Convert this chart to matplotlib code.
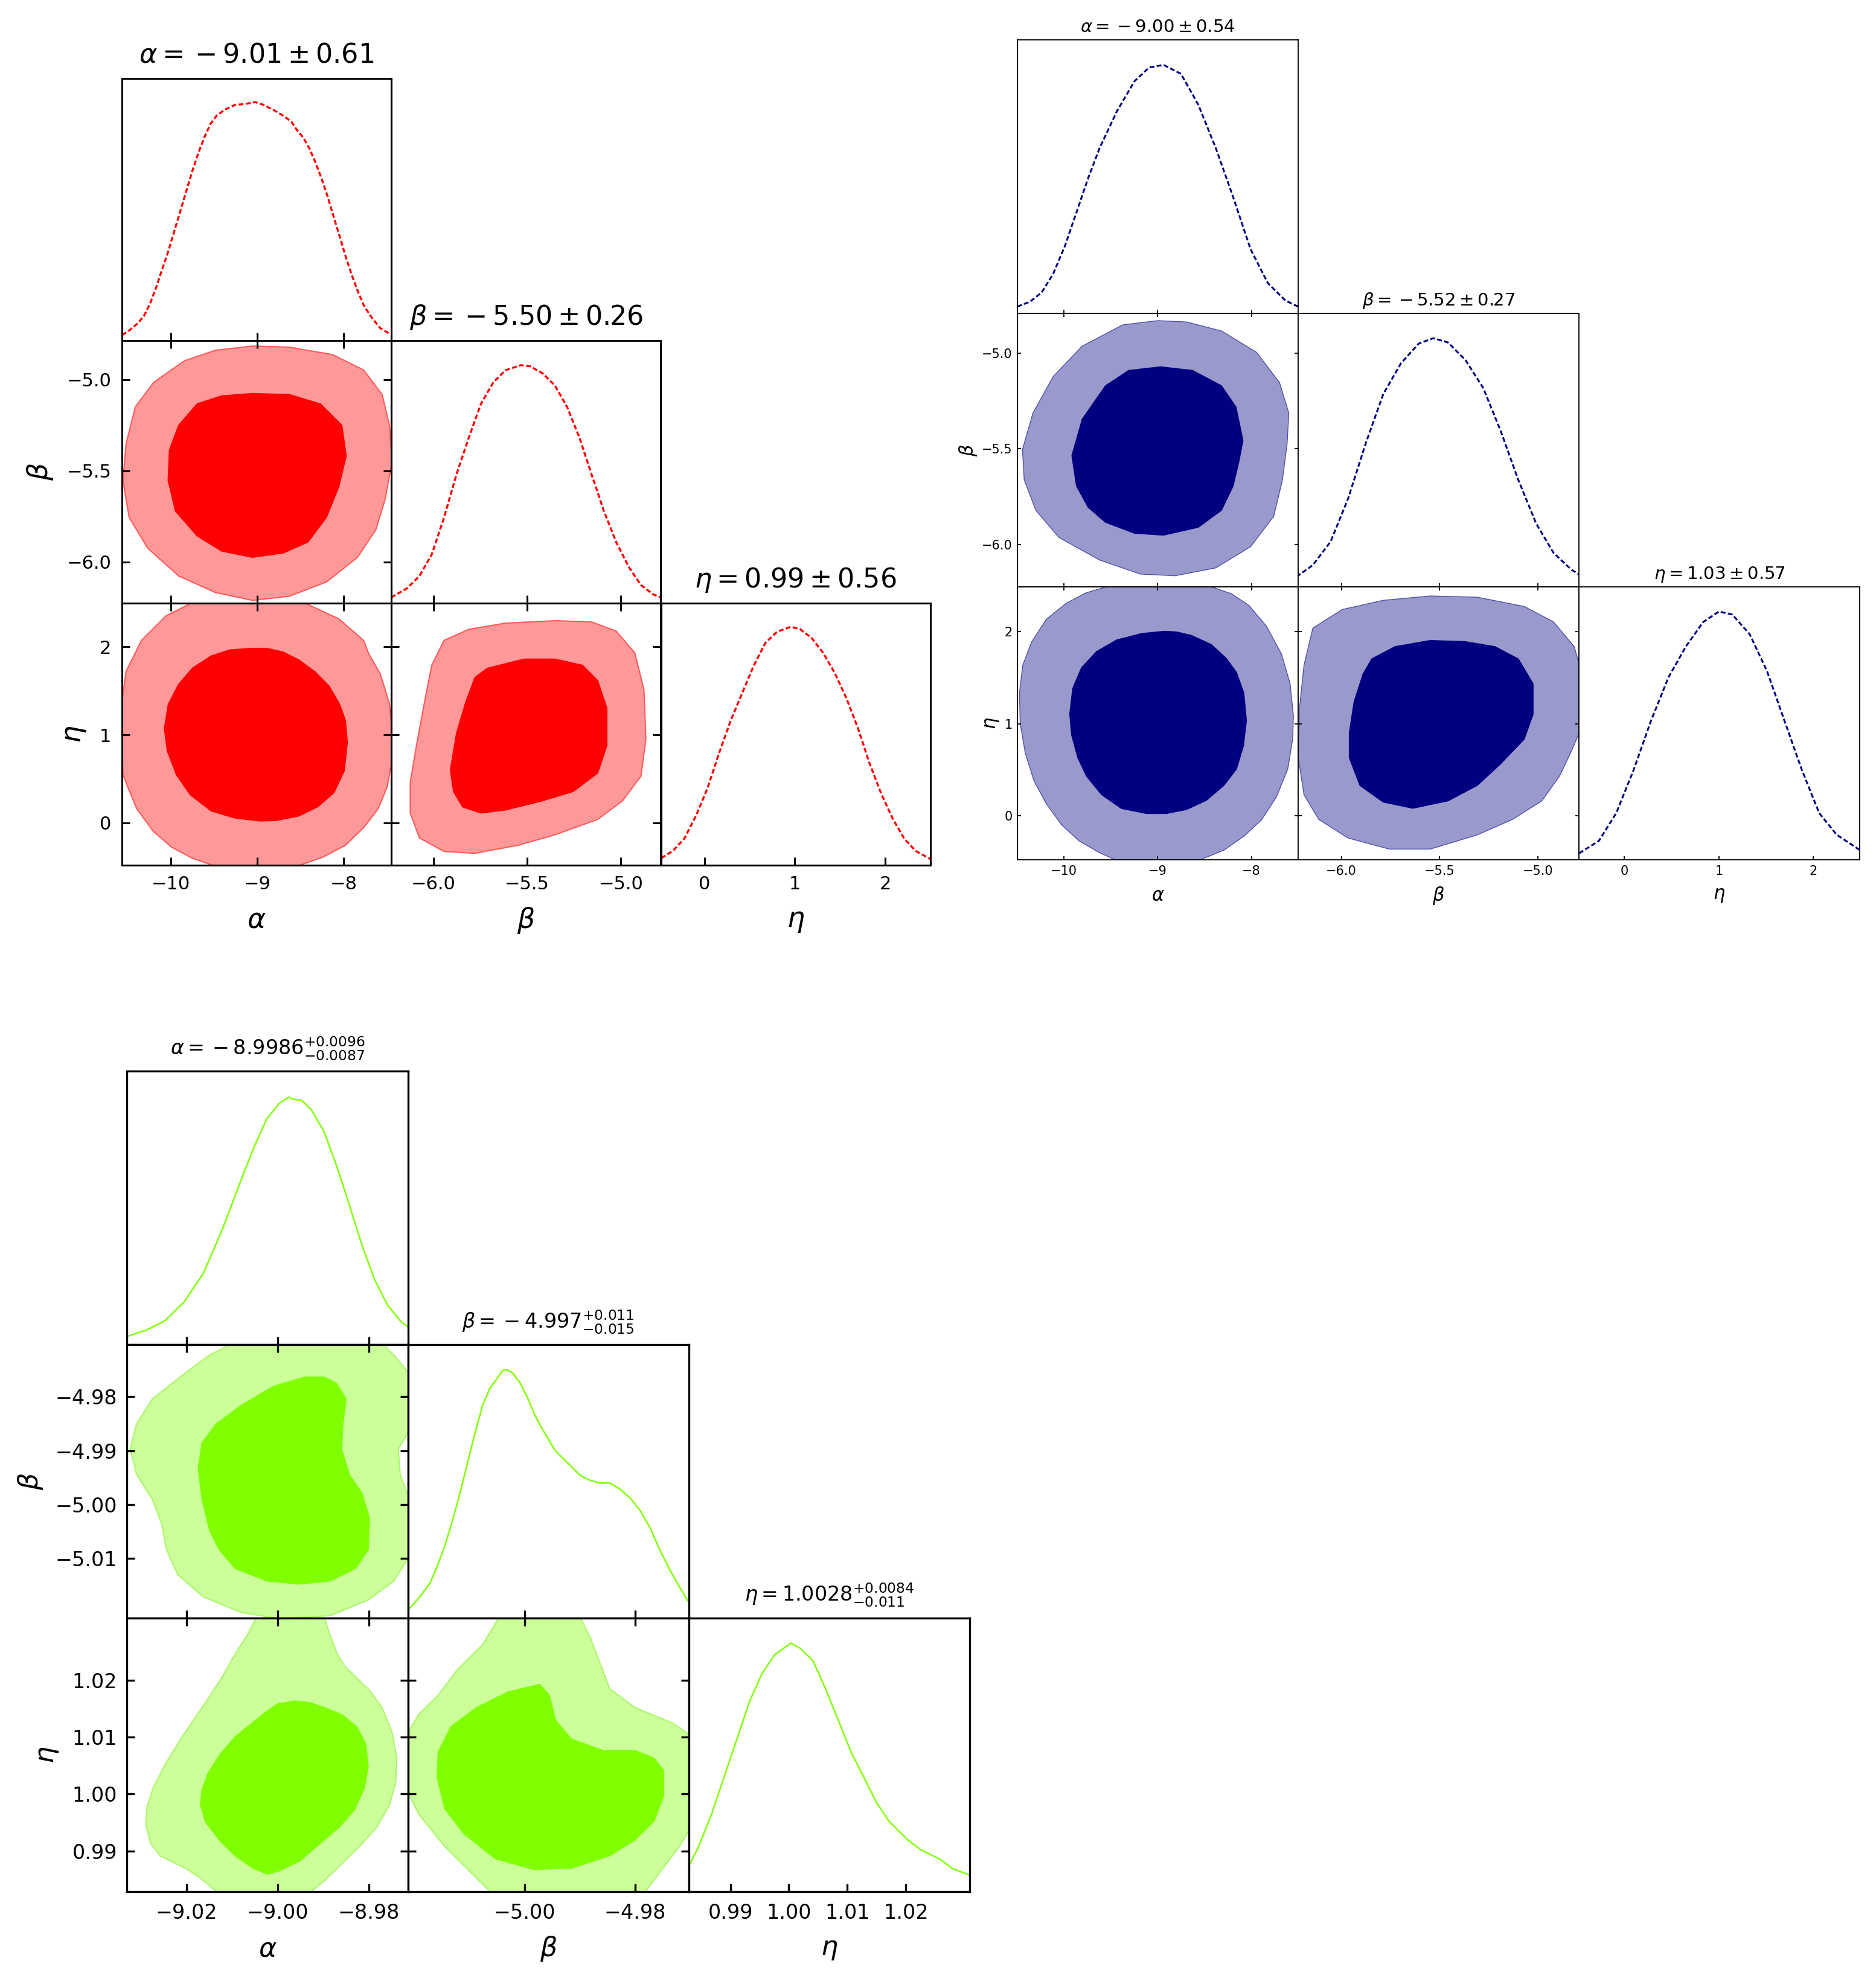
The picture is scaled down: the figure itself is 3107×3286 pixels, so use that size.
import numpy as np
import matplotlib.pyplot as plt

W, H = 3107, 3286

# ---------------- red chain ----------------
# 1D marginals: (parameter value, density / max)
red_alpha_pdf = [(-10.568, 0.023), (-10.479, 0.044), (-10.385, 0.073), (-10.315, 0.103), (-10.245, 0.154),
                 (-10.175, 0.221), (-10.105, 0.297), (-10.034, 0.373), (-9.964, 0.458), (-9.894, 0.542),
                 (-9.824, 0.627), (-9.754, 0.711), (-9.684, 0.787), (-9.613, 0.854), (-9.543, 0.909),
                 (-9.473, 0.943), (-9.379, 0.968), (-9.262, 0.988), (-9.145, 0.992), (-9.028, 1.0),
                 (-8.935, 0.989), (-8.818, 0.968), (-8.701, 0.943), (-8.607, 0.918), (-8.537, 0.880),
                 (-8.467, 0.850), (-8.396, 0.804), (-8.326, 0.745), (-8.256, 0.678), (-8.186, 0.602),
                 (-8.116, 0.517), (-8.045, 0.433), (-7.975, 0.348), (-7.905, 0.272), (-7.835, 0.204),
                 (-7.765, 0.145), (-7.672, 0.094), (-7.578, 0.052), (-7.461, 0.027)]
red_beta_pdf = [(-6.225, 0.023), (-6.139, 0.062), (-6.074, 0.113), (-6.008, 0.204), (-5.943, 0.358),
                (-5.877, 0.538), (-5.811, 0.693), (-5.746, 0.835), (-5.680, 0.925), (-5.615, 0.976),
                (-5.533, 0.997), (-5.484, 0.992), (-5.418, 0.963), (-5.352, 0.912), (-5.287, 0.822),
                (-5.221, 0.693), (-5.156, 0.538), (-5.090, 0.384), (-5.025, 0.255), (-4.959, 0.152),
                (-4.893, 0.075), (-4.828, 0.036), (-4.787, 0.023)]
red_eta_pdf = [(-0.479, 0.030), (-0.351, 0.060), (-0.223, 0.112), (-0.095, 0.207), (0.033, 0.323),
               (0.161, 0.470), (0.289, 0.606), (0.417, 0.722), (0.545, 0.837), (0.673, 0.932),
               (0.802, 0.979), (0.955, 1.0), (1.058, 0.990), (1.186, 0.953), (1.314, 0.890),
               (1.442, 0.806), (1.570, 0.701), (1.698, 0.575), (1.826, 0.428), (1.954, 0.302),
               (2.082, 0.196), (2.210, 0.112), (2.338, 0.060), (2.50, 0.026)]
# 2D contours (68% inner, 95% outer)
red_ab_out = [(-9.057, -4.817), (-9.486, -4.840), (-9.843, -4.897), (-10.2, -5.015), (-10.414, -5.150),
              (-10.521, -5.352), (-10.557, -5.554), (-10.486, -5.756), (-10.271, -5.924), (-9.914, -6.076),
              (-9.486, -6.167), (-9.057, -6.210), (-8.629, -6.187), (-8.2, -6.109), (-7.843, -5.975),
              (-7.629, -5.823), (-7.521, -5.655), (-7.443, -5.453), (-7.471, -5.251), (-7.557, -5.082),
              (-7.771, -4.948), (-8.129, -4.864), (-8.629, -4.823)]
red_ab_in = [(-9.057, -5.076), (-9.414, -5.089), (-9.7, -5.133), (-9.914, -5.251), (-10.021, -5.386),
             (-10.036, -5.554), (-9.95, -5.722), (-9.7, -5.857), (-9.414, -5.941), (-9.057, -5.975),
             (-8.7, -5.951), (-8.414, -5.891), (-8.2, -5.756), (-8.057, -5.588), (-7.971, -5.419),
             (-8.021, -5.251), (-8.271, -5.133), (-8.629, -5.082)]
red_ae_out = [(-9.557, 2.60), (-10.057, 2.354), (-10.343, 2.074), (-10.521, 1.723), (-10.58, 1.302),
              (-10.58, 1.119), (-10.557, 0.546), (-10.503, 0.409), (-10.396, 0.157), (-10.208, -0.095),
              (-9.993, -0.278), (-9.752, -0.404), (-9.510, -0.485), (-9.268, -0.542), (-8.785, -0.542),
              (-8.517, -0.485), (-8.248, -0.393), (-7.980, -0.255), (-7.765, -0.049), (-7.604, 0.157),
              (-7.497, 0.409), (-7.451, 0.661), (-7.451, 1.119), (-7.470, 1.348), (-7.577, 1.692),
              (-7.711, 1.921), (-7.771, 2.074), (-8.057, 2.319), (-8.414, 2.481), (-8.7, 2.565)]
red_ae_in = [(-9.081, 1.985), (-8.893, 1.985), (-8.705, 1.944), (-8.517, 1.852), (-8.329, 1.715),
             (-8.168, 1.554), (-8.047, 1.348), (-7.980, 1.165), (-7.958, 0.913), (-7.993, 0.592),
             (-8.114, 0.340), (-8.302, 0.180), (-8.517, 0.077), (-8.785, 0.024), (-8.973, 0.019),
             (-9.268, 0.054), (-9.537, 0.134), (-9.779, 0.317), (-9.940, 0.546), (-10.047, 0.821),
             (-10.079, 1.073), (-10.034, 1.348), (-9.913, 1.577), (-9.752, 1.761), (-9.537, 1.898),
             (-9.322, 1.967)]
red_be_out = [(-5.943, 2.074), (-5.811, 2.2), (-5.615, 2.270), (-5.352, 2.298), (-5.156, 2.284),
              (-5.025, 2.179), (-4.926, 1.933), (-4.877, 1.512), (-4.867, 0.951), (-4.893, 0.530),
              (-4.992, 0.249), (-5.123, 0.039), (-5.352, -0.137), (-5.549, -0.256), (-5.779, -0.347),
              (-5.943, -0.326), (-6.074, -0.172), (-6.123, 0.109), (-6.123, 0.460), (-6.090, 0.881),
              (-6.041, 1.442), (-6.008, 1.793)]
red_be_in = [(-5.779, 1.653), (-5.713, 1.758), (-5.516, 1.863), (-5.352, 1.863), (-5.205, 1.793),
             (-5.123, 1.618), (-5.074, 1.302), (-5.074, 0.881), (-5.123, 0.565), (-5.254, 0.354),
             (-5.418, 0.249), (-5.615, 0.144), (-5.746, 0.109), (-5.844, 0.179), (-5.893, 0.354),
             (-5.910, 0.6), (-5.877, 1.021), (-5.828, 1.372)]
red_titles = [r'$\alpha = {}-9.01 \pm 0.61$', r'$\beta = {}-5.50 \pm 0.26$', r'$\eta = 0.99 \pm 0.56$']
red_lims = [(-10.571, -7.45), (-6.224, -4.787), (-0.483, 2.50)]
red_xticks = [[-10, -9, -8], [-6.0, -5.5, -5.0], [0, 1, 2]]
red_xticklabels = [['\u221210', '\u22129', '\u22128'], ['\u22126.0', '\u22125.5', '\u22125.0'], ['0', '1', '2']]
red_yticks = red_xticks
red_yticklabels = red_xticklabels

# ---------------- blue chain ----------------
blue_alpha_pdf = [(-10.498, 0.027), (-10.362, 0.047), (-10.238, 0.084), (-10.115, 0.159), (-9.991, 0.270),
                  (-9.867, 0.406), (-9.743, 0.543), (-9.619, 0.666), (-9.433, 0.815), (-9.248, 0.934),
                  (-9.093, 0.989), (-8.938, 1.0), (-8.752, 0.964), (-8.567, 0.840), (-8.381, 0.666),
                  (-8.195, 0.468), (-8.009, 0.258), (-7.824, 0.121), (-7.638, 0.052), (-7.502, 0.027)]
blue_beta_pdf = [(-6.228, 0.040), (-6.145, 0.087), (-6.055, 0.181), (-5.966, 0.354), (-5.876, 0.577),
                 (-5.787, 0.775), (-5.697, 0.899), (-5.607, 0.978), (-5.533, 1.0), (-5.458, 0.983),
                 (-5.369, 0.912), (-5.279, 0.800), (-5.190, 0.627), (-5.1, 0.429), (-5.010, 0.255),
                 (-4.921, 0.136), (-4.831, 0.069), (-4.784, 0.045)]
blue_eta_pdf = [(-0.479, 0.027), (-0.270, 0.077), (-0.086, 0.189), (0.098, 0.363), (0.282, 0.561),
                (0.466, 0.735), (0.650, 0.859), (0.834, 0.958), (1.0, 1.0), (1.141, 0.988),
                (1.325, 0.909), (1.509, 0.760), (1.693, 0.561), (1.877, 0.363), (2.061, 0.189),
                (2.245, 0.102), (2.491, 0.040)]
blue_ab_out = [(-9.0, -4.830), (-9.372, -4.852), (-9.805, -4.963), (-10.115, -5.122), (-10.331, -5.313),
               (-10.443, -5.503), (-10.424, -5.662), (-10.300, -5.821), (-10.053, -5.963), (-9.619, -6.081),
               (-9.186, -6.154), (-8.814, -6.163), (-8.381, -6.122), (-8.009, -6.011), (-7.762, -5.852),
               (-7.669, -5.662), (-7.619, -5.471), (-7.601, -5.313), (-7.700, -5.154), (-7.947, -4.995),
               (-8.319, -4.884), (-8.690, -4.837)]
blue_ab_in = [(-8.969, -5.071), (-9.310, -5.090), (-9.557, -5.170), (-9.805, -5.344), (-9.916, -5.535),
              (-9.867, -5.694), (-9.743, -5.805), (-9.557, -5.884), (-9.248, -5.941), (-8.938, -5.951),
              (-8.567, -5.910), (-8.319, -5.821), (-8.195, -5.694), (-8.133, -5.567), (-8.090, -5.456),
              (-8.164, -5.281), (-8.319, -5.170), (-8.628, -5.090)]
blue_ae_out = [(-9.173, 2.538), (-9.547, 2.488), (-9.760, 2.425), (-9.973, 2.312), (-10.187, 2.137),
               (-10.347, 1.886), (-10.44, 1.635), (-10.475, 1.334), (-10.467, 1.008), (-10.413, 0.681),
               (-10.32, 0.380), (-10.187, 0.129), (-10.027, -0.097), (-9.84, -0.272), (-9.627, -0.398),
               (-9.44, -0.486), (-9.173, -0.536), (-8.773, -0.536), (-8.533, -0.473), (-8.293, -0.373),
               (-8.08, -0.222), (-7.893, -0.046), (-7.733, 0.205), (-7.613, 0.506), (-7.56, 0.832),
               (-7.552, 1.083), (-7.587, 1.434), (-7.68, 1.760), (-7.84, 2.061), (-8.027, 2.287),
               (-8.213, 2.413), (-8.427, 2.488), (-8.64, 2.538)]
blue_ae_in = [(-8.933, 2.006), (-9.173, 1.981), (-9.44, 1.911), (-9.653, 1.785), (-9.813, 1.610),
              (-9.907, 1.384), (-9.939, 1.108), (-9.92, 0.882), (-9.853, 0.631), (-9.76, 0.430),
              (-9.6, 0.230), (-9.387, 0.079), (-9.12, 0.024), (-8.907, 0.024), (-8.693, 0.067),
              (-8.48, 0.167), (-8.293, 0.330), (-8.16, 0.506), (-8.085, 0.757), (-8.053, 1.033),
              (-8.08, 1.334), (-8.16, 1.560), (-8.267, 1.710), (-8.427, 1.861), (-8.64, 1.961),
              (-8.8, 1.999)]
blue_be_out = [(-6.145, 2.040), (-5.996, 2.242), (-5.787, 2.342), (-5.548, 2.389), (-5.309, 2.376),
               (-5.070, 2.275), (-4.921, 2.107), (-4.816, 1.839), (-4.772, 1.503), (-4.778, 0.966),
               (-4.831, 0.698), (-4.891, 0.430), (-4.981, 0.161), (-5.130, -0.040), (-5.309, -0.208),
               (-5.548, -0.362), (-5.757, -0.362), (-5.966, -0.242), (-6.115, -0.040), (-6.19, 0.228),
               (-6.219, 0.631), (-6.213, 1.168), (-6.19, 1.638)]
blue_be_in = [(-5.846, 1.705), (-5.727, 1.839), (-5.548, 1.906), (-5.369, 1.893), (-5.219, 1.839),
              (-5.1, 1.705), (-5.025, 1.436), (-5.025, 1.101), (-5.07, 0.832), (-5.190, 0.564),
              (-5.309, 0.329), (-5.458, 0.161), (-5.637, 0.081), (-5.787, 0.148), (-5.906, 0.329),
              (-5.960, 0.631), (-5.960, 0.899), (-5.936, 1.235), (-5.891, 1.537)]
blue_titles = [r'$\alpha = {}-9.00 \pm 0.54$', r'$\beta = {}-5.52 \pm 0.27$', r'$\eta = 1.03 \pm 0.57$']
blue_lims = [(-10.498, -7.502), (-6.22, -4.792), (-0.481, 2.49)]
blue_xticks = red_xticks
blue_xticklabels = red_xticklabels
blue_yticks = red_xticks
blue_yticklabels = red_xticklabels

# ---------------- green chain ----------------
green_alpha_pdf = [(-9.0330, 0.033), (-9.0288, 0.058), (-9.0247, 0.096), (-9.0205, 0.172), (-9.0163, 0.286),
                   (-9.0121, 0.464), (-9.0079, 0.667), (-9.0052, 0.793), (-9.0024, 0.907), (-8.9996, 0.971),
                   (-8.9975, 0.996), (-8.9968, 0.988), (-8.9947, 0.983), (-8.9926, 0.945), (-8.9898, 0.857),
                   (-8.9870, 0.717), (-8.9843, 0.565), (-8.9815, 0.401), (-8.9787, 0.261), (-8.9759, 0.160),
                   (-8.9731, 0.096), (-8.9714, 0.071)]
green_beta_pdf = [(-5.02095, 0.035), (-5.01891, 0.086), (-5.01710, 0.141), (-5.01575, 0.211), (-5.01439, 0.292),
                  (-5.01303, 0.393), (-5.01167, 0.503), (-5.01032, 0.624), (-5.00896, 0.745), (-5.00760, 0.855),
                  (-5.00624, 0.926), (-5.00489, 0.966), (-5.00398, 0.996), (-5.00330, 1.0), (-5.00217, 0.986),
                  (-5.00081, 0.946), (-4.99946, 0.886), (-4.99810, 0.815), (-4.99719, 0.775), (-4.99584, 0.725),
                  (-4.99448, 0.674), (-4.99312, 0.644), (-4.99176, 0.614), (-4.98995, 0.574), (-4.98814, 0.554),
                  (-4.98633, 0.543), (-4.98452, 0.543), (-4.98271, 0.518), (-4.98090, 0.483), (-4.97910, 0.433),
                  (-4.97729, 0.362), (-4.97548, 0.272), (-4.97367, 0.191), (-4.97186, 0.121), (-4.97050, 0.070)]
green_eta_pdf = [(0.98304, 0.109), (0.98457, 0.180), (0.98674, 0.307), (0.98891, 0.459), (0.99109, 0.611),
                 (0.99326, 0.763), (0.99543, 0.877), (0.99761, 0.953), (1.00033, 0.999), (1.00196, 0.978),
                 (1.00413, 0.928), (1.00630, 0.814), (1.00848, 0.687), (1.01065, 0.560), (1.01283, 0.459),
                 (1.01500, 0.357), (1.01717, 0.281), (1.02043, 0.205), (1.02261, 0.167), (1.02587, 0.129),
                 (1.02804, 0.091), (1.03087, 0.066)]
green_ab_out = [(-9.00794, -4.96930), (-9.01491, -4.97222), (-9.02049, -4.97572), (-9.02746, -4.98039),
                (-9.03094, -4.98506), (-9.03233, -4.98973), (-9.03094, -4.99440), (-9.02746, -4.99907),
                (-9.02537, -5.00374), (-9.02439, -5.00840), (-9.02188, -5.01307), (-9.01631, -5.01716),
                (-9.00794, -5.02008), (-8.99958, -5.02124), (-8.98843, -5.02066), (-8.98007, -5.01774),
                (-8.97449, -5.01424), (-8.97101, -5.00957), (-8.97101, -4.99907), (-8.97310, -4.99440),
                (-8.97352, -4.98973), (-8.97101, -4.98623), (-8.97101, -4.97572), (-8.97449, -4.97222),
                (-8.97728, -4.96989), (-8.98286, -4.96872)]
green_ab_in = [(-8.99401, -4.97630), (-9.00098, -4.97806), (-9.00794, -4.98156), (-9.01352, -4.98506),
               (-9.01659, -4.98856), (-9.01742, -4.99323), (-9.01659, -4.99907), (-9.01491, -5.00490),
               (-9.01282, -5.00840), (-9.00934, -5.01191), (-9.00237, -5.01424), (-8.99540, -5.01482),
               (-8.98843, -5.01424), (-8.98286, -5.01191), (-8.98007, -5.00840), (-8.97979, -5.00257),
               (-8.98146, -4.99790), (-8.98425, -4.99440), (-8.98592, -4.98973), (-8.98564, -4.98506),
               (-8.98495, -4.98039), (-8.98704, -4.97747), (-8.98983, -4.97630)]
green_ae_out = [(-9.00437, 1.03145), (-9.00655, 1.02803), (-9.00928, 1.02460), (-9.01201, 1.02075),
                (-9.01473, 1.01733), (-9.01801, 1.01348), (-9.02128, 1.00963), (-9.02456, 1.00535),
                (-9.02729, 1.00107), (-9.02865, 0.99765), (-9.02892, 0.99465), (-9.02783, 0.99123),
                (-9.02565, 0.98909), (-9.02292, 0.98802), (-9.02019, 0.98695), (-9.01692, 0.98524),
                (-9.01310, 0.98267), (-8.99291, 0.98267), (-8.98963, 0.98481), (-8.98636, 0.98738),
                (-8.98199, 0.99080), (-8.97817, 0.99422), (-8.97544, 0.99807), (-8.97408, 1.00193),
                (-8.97381, 1.00620), (-8.97490, 1.01091), (-8.97708, 1.01519), (-8.97981, 1.01819),
                (-8.98308, 1.02075), (-8.98527, 1.02246), (-8.98690, 1.02460), (-8.98854, 1.02803),
                (-8.98990, 1.03145)]
green_ae_in = [(-8.99618, 1.01635), (-9.0, 1.01583), (-9.00273, 1.01433), (-9.00600, 1.01220),
               (-9.00928, 1.01006), (-9.01255, 1.00706), (-9.01528, 1.00364), (-9.01664, 1.00064),
               (-9.01692, 0.99807), (-9.01583, 0.99508), (-9.01255, 0.99166), (-9.00928, 0.98909),
               (-9.00546, 0.98695), (-9.00218, 0.98588), (-8.99945, 0.98652), (-8.99509, 0.98823),
               (-8.99072, 0.99123), (-8.98636, 0.99422), (-8.98308, 0.99722), (-8.98090, 1.00107),
               (-8.98008, 1.00492), (-8.98063, 1.00877), (-8.98254, 1.01177), (-8.98581, 1.01391),
               (-8.98963, 1.01519), (-8.99291, 1.01605)]
green_be_out = [(-5.00414, 1.03177), (-5.00759, 1.02624), (-5.01218, 1.02181), (-5.01563, 1.01738),
                (-5.01908, 1.01406), (-5.02080, 1.01129), (-5.02138, 1.00077), (-5.01908, 0.99635),
                (-5.01448, 0.99081), (-5.00989, 0.98638), (-5.00529, 0.98196), (-4.97885, 0.98196),
                (-4.97540, 0.98638), (-4.97195, 0.99081), (-4.96989, 0.99413), (-4.96989, 1.01018),
                (-4.97310, 1.01240), (-4.98000, 1.01517), (-4.98460, 1.01849), (-4.98632, 1.02292),
                (-4.98805, 1.02734), (-4.99034, 1.03177)]
green_be_in = [(-4.99724, 1.01926), (-5.00299, 1.01793), (-5.00874, 1.01517), (-5.01333, 1.01185),
               (-5.01563, 1.00742), (-5.01586, 1.00299), (-5.01448, 0.99745), (-5.01103, 0.99303),
               (-5.00529, 0.98860), (-4.99839, 0.98672), (-4.99149, 0.98694), (-4.98460, 0.98915),
               (-4.98000, 0.99192), (-4.97655, 0.99524), (-4.97483, 0.99967), (-4.97483, 1.00410),
               (-4.97655, 1.00631), (-4.98000, 1.00764), (-4.98575, 1.00764), (-4.99149, 1.00963),
               (-4.99437, 1.01295), (-4.99552, 1.01738)]
green_titles = [r'$\alpha = {}-8.9986^{+0.0096}_{-0.0087}$', r'$\beta = {}-4.997^{+0.011}_{-0.015}$',
                r'$\eta = 1.0028^{+0.0084}_{-0.011}$']
green_lims = [(-9.0330, -8.9714), (-5.0211, -4.9703), (0.98289, 1.0309)]
green_xticks = [[-9.02, -9.00, -8.98], [-5.00, -4.98], [0.99, 1.00, 1.01, 1.02]]
green_xticklabels = [['\u22129.02', '\u22129.00', '\u22128.98'], ['\u22125.00', '\u22124.98'],
                     ['0.99', '1.00', '1.01', '1.02']]
green_yticks = [[], [-5.01, -5.00, -4.99, -4.98], [0.99, 1.00, 1.01, 1.02]]
green_yticklabels = [[], ['\u22125.01', '\u22125.00', '\u22124.99', '\u22124.98'],
                     ['0.99', '1.00', '1.01', '1.02']]

names = [r'$\alpha$', r'$\beta$', r'$\eta$']

fig = plt.figure(figsize=(W / 100, H / 100), dpi=100)


def corner(x0, y0, w, h, s, pdfs, cont, lims, xt, xtl, yt, ytl, titles):
    for i in range(3):
        for j in range(i + 1):
            ax = fig.add_axes([(x0 + j * w) / W, 1 - (y0 + (i + 1) * h) / H, w / W, h / H])
            for sp in ax.spines.values():
                sp.set_linewidth(s['spine'])
            ax.set_xlim(lims[j])
            ax.set_xticks(xt[j], xtl[j])
            if i == j:
                v = np.array(pdfs[i])
                ax.plot(v[:, 0], v[:, 1], color=s['line'], lw=s['lw'], ls=s['ls'])
                ax.set_ylim(0, 1.1)
                ax.set_yticks([])
                ax.text(0.5, 1 + s['tgap'] / h, titles[i], transform=ax.transAxes,
                        ha='center', va='baseline', fontsize=s['tfs'])
            else:
                outer, inner = cont[(i, j)]
                o = np.array(outer)
                n = np.array(inner)
                ax.fill(o[:, 0], o[:, 1], fc=s['c2'], ec=s['edge'], lw=s['elw'], joinstyle='round')
                ax.fill(n[:, 0], n[:, 1], fc=s['c1'], ec=s['c1'], lw=1.0, joinstyle='round')
                ax.set_ylim(lims[i])
                ax.set_yticks(yt[i], ytl[i])
                ax.tick_params(top=True, right=True, labelleft=(j == 0))
                if j == 0:
                    ax.set_ylabel(names[i], fontsize=s['lfs'], va='center')
                    ax.yaxis.set_label_coords(s['ylx'][i], 0.5)
            ax.tick_params(direction='in', length=s['tl'], width=s['tw'], labelsize=s['fs'],
                           labelbottom=(i == 2))
            ax.tick_params(axis='x', pad=s['xpad'])
            ax.tick_params(axis='y', pad=s['ypad'])
            if i == 2:
                ax.set_xlabel(names[j], fontsize=s['lfs'], va='center')
                ax.xaxis.set_label_coords(0.5, s['xly'])


red_style = dict(spine=2.2, tl=9.6, tw=2.2, fs=22, xpad=12.5, ypad=12.5, tfs=32, lfs=33, tgap=26,
                 line='#ff0000', lw=2.4, ls=(0, (2.4, 1.2)), c1='#ff0000', c2='#ff9999',
                 edge='#ff5a5a', elw=1.5, xly=-0.2094, ylx=[0, -0.303, -0.175])
blue_style = dict(spine=1.3, tl=4.3, tw=1.3, fs=15, xpad=6, ypad=6, tfs=21, lfs=22, tgap=13,
                  line='#000080', lw=2.2, ls=(0, (2.6, 1.3)), c1='#000080', c2='#9999cc',
                  edge='#5050a8', elw=1.0, xly=-0.131, ylx=[0, -0.175, -0.089])
green_style = dict(spine=2.4, tl=9.6, tw=2.4, fs=24, xpad=14, ypad=12, tfs=24, lfs=32, tgap=27,
                   line='#7fff00', lw=1.8, ls='-', c1='#7fff00', c2='#ccff99',
                   edge='#aaf76a', elw=1.5, xly=-0.2105, ylx=[0, -0.345, -0.283])

corner(201.7, 129.6, 446.4, 434.5, red_style, [red_alpha_pdf, red_beta_pdf, red_eta_pdf],
       {(1, 0): (red_ab_out, red_ab_in), (2, 0): (red_ae_out, red_ae_in), (2, 1): (red_be_out, red_be_in)},
       red_lims, red_xticks, red_xticklabels, red_yticks, red_yticklabels, red_titles)
corner(1684.8, 66.3, 465.1, 452.7, blue_style, [blue_alpha_pdf, blue_beta_pdf, blue_eta_pdf],
       {(1, 0): (blue_ab_out, blue_ab_in), (2, 0): (blue_ae_out, blue_ae_in), (2, 1): (blue_be_out, blue_be_in)},
       blue_lims, blue_xticks, blue_xticklabels, blue_yticks, blue_yticklabels, blue_titles)
corner(210.5, 1774.2, 465.1, 452.8, green_style, [green_alpha_pdf, green_beta_pdf, green_eta_pdf],
       {(1, 0): (green_ab_out, green_ab_in), (2, 0): (green_ae_out, green_ae_in), (2, 1): (green_be_out, green_be_in)},
       green_lims, green_xticks, green_xticklabels, green_yticks, green_yticklabels, green_titles)

fig.savefig('out.png', dpi=100)
